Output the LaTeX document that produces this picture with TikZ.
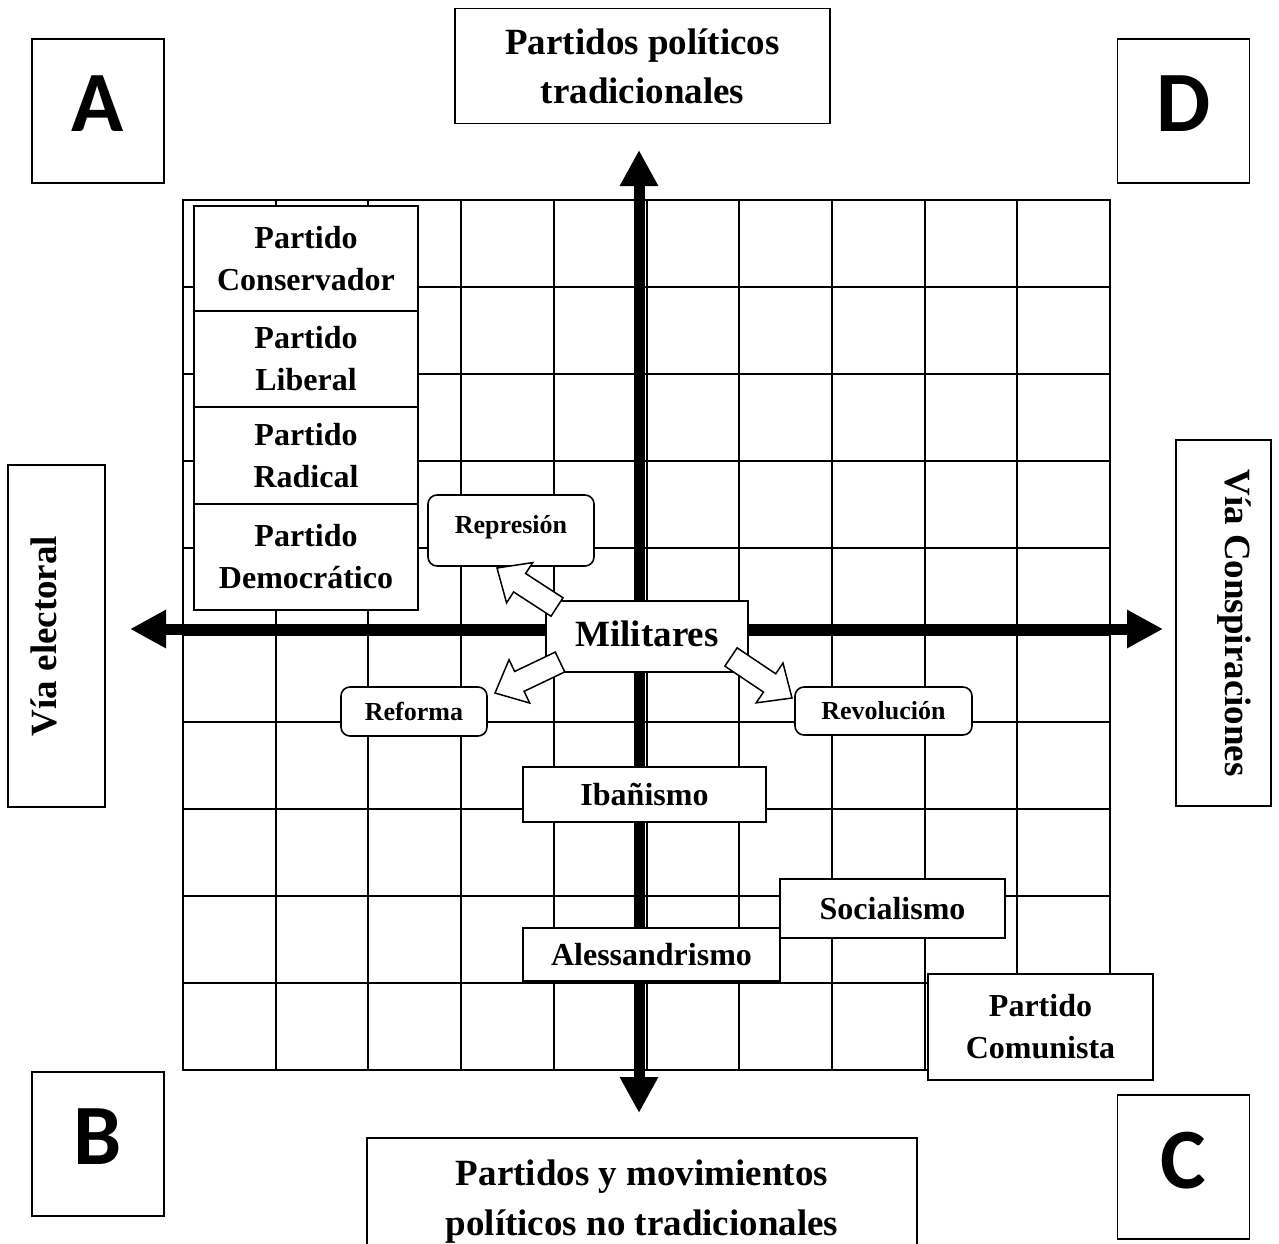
\documentclass[tikz,border=0pt]{standalone}
\usepackage{fontspec}
\setmainfont{Liberation Serif}
\newfontfamily\letterfont{Carlito}
\usetikzlibrary{arrows.meta,calc}

\newcommand\hollowarrow[2]{%
  \coordinate (#2-neck) at ($(#2)!27pt!(#1)$);
  \draw[hollow] ($(#1)!11pt!90:(#2)$) -- ($(#2-neck)!11pt!90:(#2)$) -- ($(#2-neck)!24pt!90:(#2)$) -- (#2)
     -- ($(#2-neck)!24pt!-90:(#2)$) -- ($(#2-neck)!11pt!-90:(#2)$) -- ($(#1)!11pt!-90:(#2)$) -- cycle;
}

\begin{document}
\begin{tikzpicture}[x=1pt,y=-1pt,
  box/.style={draw, line width=1.6pt, fill=white, inner sep=0pt, align=center,
              font=\bfseries\fontsize{32}{42}\selectfont},
  bigbox/.style={box, font=\bfseries\fontsize{37}{49}\selectfont},
  rbox/.style={box, rounded corners=9pt, font=\bfseries\fontsize{26}{30}\selectfont},
  letterbox/.style={box, minimum width=132pt, minimum height=144pt, text depth=14pt,
              font=\letterfont\bfseries\fontsize{86}{86}\selectfont},
  gridline/.style={line width=2pt, line cap=rect},
  axis/.style={line width=11pt, {Triangle[width=36pt,length=36pt]}-{Triangle[width=36pt,length=36pt]}},
  hollow/.style={draw, line width=1.5pt, fill=white, line join=miter}
]
\useasboundingbox (0,0) rectangle (1279,1244);

% grid
\foreach \i in {0,...,10} {
  \draw[gridline] ({183+92.7*\i},200) -- ({183+92.7*\i},1070);
  \draw[gridline] (183,{200+87*\i}) -- (1110,{200+87*\i});
}

% axes
\coordinate (hl) at (130,629);
\coordinate (hr) at (1163,629);
\coordinate (vt) at (639,150);
\coordinate (vb) at (639,1113);
\draw[axis] (hl) -- (hr);
\draw[axis] (vb) -- (vt);

% header boxes
\node[bigbox, minimum width=375pt, minimum height=115pt] (top) at (642.5,66) {Partidos políticos\\tradicionales};
\node[bigbox, minimum width=550pt, minimum height=127pt, font=\bfseries\fontsize{37}{50}\selectfont] (bottom) at (642,1201.5) {Partidos y movimientos\\políticos no tradicionales};
\node[bigbox, rotate=90, minimum width=342pt, minimum height=97pt, text depth=25pt] (left) at (56.5,636) {Vía electoral};
\node[bigbox, rotate=-90, minimum width=366pt, minimum height=95pt, text depth=30pt] (right) at (1223.5,623) {Vía Conspiraciones};

% letter boxes
\node[letterbox] (A) at (98,111) {A};
\node[letterbox] (D) at (1183.5,111) {D};
\node[letterbox] (B) at (98,1144) {B};
\node[letterbox] (C) at (1183.5,1167) {C};

% party stack
\node[box, minimum width=224pt, minimum height=105pt] (cons) at (306,258.5) {Partido\\Conservador};
\node[box, minimum width=224pt, minimum height=96pt] (lib) at (306,359) {Partido\\Liberal};
\node[box, minimum width=224pt, minimum height=97pt] (rad) at (306,455.5) {Partido\\Radical};
\node[box, minimum width=224pt, minimum height=106pt] (dem) at (306,557) {Partido\\Democrático};

% center
\node[box, minimum width=202pt, minimum height=71pt, text depth=6pt,
      font=\bfseries\fontsize{37}{44}\selectfont] (mil) at (647,636.5) {Militares};
\node[rbox, minimum width=166pt, minimum height=71pt, text depth=12pt] (rep) at (511,530.5) {Represión};
\node[rbox, minimum width=146pt, minimum height=49pt] (ref) at (414,711.5) {Reforma};
\node[rbox, minimum width=177pt, minimum height=48pt] (rev) at (883.5,711) {Revolución};

% hollow arrows
\coordinate (repT) at (557,607); \coordinate (repP) at (497,568);
\coordinate (refT) at (560,662); \coordinate (refP) at (495,693);
\coordinate (revT) at (731,657); \coordinate (revP) at (792,698);
\hollowarrow{repT}{repP}
\hollowarrow{refT}{refP}
\hollowarrow{revT}{revP}

% lower boxes
\node[box, minimum width=243pt, minimum height=55pt] (iba) at (644.5,794.5) {Ibañismo};
\node[box, minimum width=225pt, minimum height=59pt] (soc) at (892.5,908.5) {Socialismo};
\node[box, minimum width=257pt, minimum height=53pt] (ale) at (651.5,954.5) {Alessandrismo};
\node[box, minimum width=225pt, minimum height=106pt] (com) at (1040.5,1027) {Partido\\Comunista};
\end{tikzpicture}
\end{document}
